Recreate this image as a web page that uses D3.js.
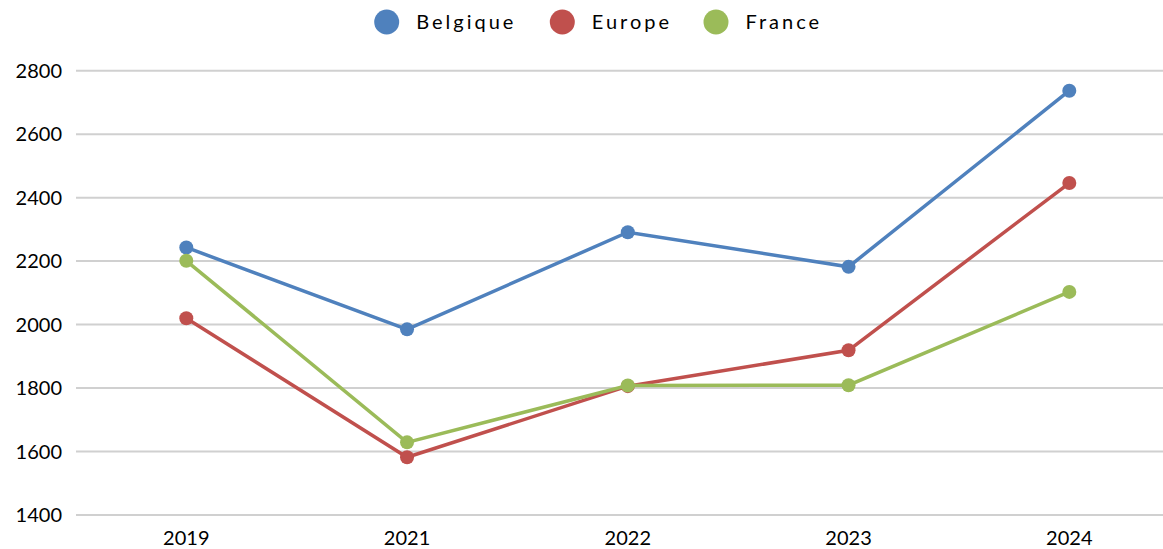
<!DOCTYPE html>
<html>
<head>
<meta charset="utf-8">
<script src="https://cdn.jsdelivr.net/npm/d3@7"></script>
<style>
	body { margin: 0; background: #fff; }
	svg { display: block; font-family: Lato, "Liberation Sans", sans-serif; }
</style>
</head>
<body>
<script>
// chart data
var years = ["2019", "2021", "2022", "2023", "2024"];
var belgique = [2243, 1985, 2291, 2182, 2737];
var europe = [2020, 1582, 1806, 1919, 2446];
var france = [2201, 1629, 1808, 1809, 2103];
var yTicks = [1400, 1600, 1800, 2000, 2200, 2400, 2600, 2800];

var seriesNames = ["Belgique", "Europe", "France"];
var seriesColors = ["#4F81BD", "#C0504D", "#9BBB59"];

var width = 1163,
	height = 549;

var svg = d3.select("body")
	.append("svg")
	.attr("width", width)
	.attr("height", height);

var x = d3.scalePoint()
	.domain(years)
	.range([186.3, 1069.3]);

var y = d3.scaleLinear()
	.domain([1400, 2800])
	.range([515, 70.7]);

// gridlines
svg.append("g")
	.selectAll("line")
	.data(yTicks)
	.enter().append("line")
	.attr("x1", 76)
	.attr("x2", 1180)
	.attr("y1", function(d) { return y(d); })
	.attr("y2", function(d) { return y(d); })
	.attr("stroke", "#d0d0d0")
	.attr("stroke-width", 2);

// y labels
svg.append("g")
	.selectAll("text")
	.data(yTicks)
	.enter().append("text")
	.attr("x", 62)
	.attr("y", function(d) { return y(d) + 7; })
	.attr("text-anchor", "end")
	.attr("font-size", 20)
	.attr("fill", "#000")
	.text(function(d) { return d; });

// x labels
svg.append("g")
	.selectAll("text")
	.data(years)
	.enter().append("text")
	.attr("x", function(d) { return x(d); })
	.attr("y", 545)
	.attr("text-anchor", "middle")
	.attr("font-size", 20)
	.attr("fill", "#000")
	.text(function(d) { return d; });

var series = [belgique, europe, france].map(function(vals, i) {
	return {
		name: seriesNames[i],
		color: seriesColors[i],
		values: vals.map(function(v, j) { return { year: years[j], value: v }; })
	};
});

var line = d3.line()
	.x(function(d) { return x(d.year); })
	.y(function(d) { return y(d.value); });

var groups = svg.selectAll(".series")
	.data(series)
	.enter().append("g")
	.attr("class", "series");

groups.append("path")
	.attr("d", function(d) { return line(d.values); })
	.attr("fill", "none")
	.attr("stroke", function(d) { return d.color; })
	.attr("stroke-width", 3.5);

groups.selectAll("circle")
	.data(function(d) { return d.values.map(function(v) { return { p: v, color: d.color }; }); })
	.enter().append("circle")
	.attr("cx", function(d) { return x(d.p.year); })
	.attr("cy", function(d) { return y(d.p.value); })
	.attr("r", 7)
	.attr("fill", function(d) { return d.color; });

// legend
var legendX = [386.7, 562.3, 716];
var legend = svg.append("g")
	.selectAll("g")
	.data(series)
	.enter().append("g")
	.attr("transform", function(d, i) { return "translate(" + legendX[i] + ",22)"; });

legend.append("circle")
	.attr("r", 12.5)
	.attr("fill", function(d) { return d.color; });

legend.append("text")
	.attr("x", 29.5)
	.attr("y", 7)
	.attr("font-size", 20)
	.attr("letter-spacing", 3)
	.attr("fill", "#000")
	.text(function(d) { return d.name; });
</script>
</body>
</html>
